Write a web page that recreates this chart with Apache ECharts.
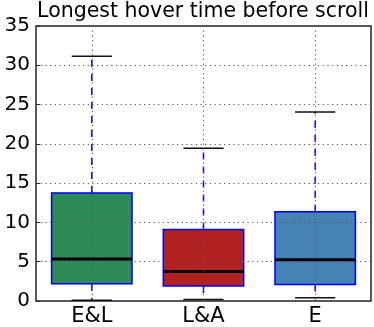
<!DOCTYPE html>
<html>
<head>
<meta charset="utf-8">
<script src="https://cdn.jsdelivr.net/npm/echarts@6/dist/echarts.min.js"></script>
<style>
  html, body { margin: 0; padding: 0; background: #fff; }
  #chart { width: 374px; height: 327px; }
</style>
</head>
<body>
<div id="chart"></div>
<script>
const categories = ["E&L", "L&A", "E"];
const whiskerLow = [0.1, 0.2, 0.4];
const quartileLow = [2.2, 1.9, 2.1];
const medians = [5.35, 3.75, 5.25];
const quartileHigh = [13.75, 9.1, 11.35];
const whiskerHigh = [31.15, 19.45, 24.05];
const boxColors = ["#2e8b57", "#b22222", "#4682b4"];

const font = "DejaVu Sans";
const gridDots = { color: "#555", width: 1, type: [1.2, 3.5] };

const boxData = categories.map((c, i) => [
  i, whiskerLow[i], quartileLow[i], medians[i], quartileHigh[i], whiskerHigh[i],
]);

const chart = echarts.init(document.getElementById("chart"), null, { renderer: "canvas" });
chart.setOption({
  animation: false,
  title: {
    text: "Longest hover time before scroll",
    left: 203,
    textAlign: "center",
    top: 0,
    padding: [1, 0, 0, 0],
    textStyle: { fontFamily: font, fontSize: 20.5, fontWeight: "normal", color: "#000", width: 340, overflow: "none" },
  },
  grid: {
    left: 36, right: 3, top: 26, bottom: 25,
    show: true, borderColor: "#222", borderWidth: 1.5, backgroundColor: "transparent",
  },
  xAxis: [{
    type: "category",
    data: categories,
    boundaryGap: true,
    axisLine: { show: false },
    axisTick: { show: false },
    splitLine: { show: false },
    axisLabel: { color: "#000", fontFamily: font, fontSize: 21, margin: 5 },
  }, {
    // only used to place dotted grid lines at the category centres
    type: "value",
    min: 0.5,
    max: 3.5,
    splitNumber: 3,
    z: 5,
    axisLine: { show: false },
    axisTick: { show: false },
    axisLabel: { show: false },
    splitLine: { show: true, showMinLine: false, showMaxLine: false, lineStyle: gridDots },
  }],
  yAxis: {
    type: "value",
    min: 0,
    max: 35,
    interval: 5,
    z: 5,
    axisLine: { show: false },
    axisTick: { show: true, inside: true, length: 4, lineStyle: { color: "#333" } },
    axisLabel: { color: "#000", fontFamily: font, fontSize: 20, margin: 6 },
    splitLine: { show: true, showMinLine: false, showMaxLine: false, lineStyle: gridDots },
  },
  series: [{
    type: "custom",
    xAxisIndex: 0,
    data: boxData,
    encode: { x: 0, y: [1, 2, 3, 4, 5] },
    renderItem(params, api) {
      const i = api.value(0);
      const lo = api.coord([i, api.value(1)]);
      const q1 = api.coord([i, api.value(2)]);
      const md = api.coord([i, api.value(3)]);
      const q3 = api.coord([i, api.value(4)]);
      const hi = api.coord([i, api.value(5)]);
      const bw = api.size([1, 0])[0] * 0.72;
      const cx = lo[0];
      const whisker = { stroke: "#0000ff", lineWidth: 1.5, lineDash: [7, 7] };
      const cap = { stroke: "#111", lineWidth: 1.5 };
      return {
        type: "group",
        children: [
          { type: "line", shape: { x1: cx, y1: q3[1], x2: cx, y2: hi[1] }, style: whisker },
          { type: "line", shape: { x1: cx, y1: q1[1], x2: cx, y2: lo[1] }, style: whisker },
          { type: "line", shape: { x1: cx - bw / 4, y1: hi[1], x2: cx + bw / 4, y2: hi[1] }, style: cap },
          { type: "line", shape: { x1: cx - bw / 4, y1: lo[1], x2: cx + bw / 4, y2: lo[1] }, style: cap },
          {
            type: "rect",
            shape: { x: cx - bw / 2, y: q3[1], width: bw, height: q1[1] - q3[1] },
            style: { fill: boxColors[params.dataIndex], stroke: "#0000ff", lineWidth: 1.5 },
          },
          { type: "line", shape: { x1: cx - bw / 2, y1: md[1], x2: cx + bw / 2, y2: md[1] }, style: { stroke: "#000", lineWidth: 3 } },
        ],
      };
    },
  }],
});
</script>
</body>
</html>
